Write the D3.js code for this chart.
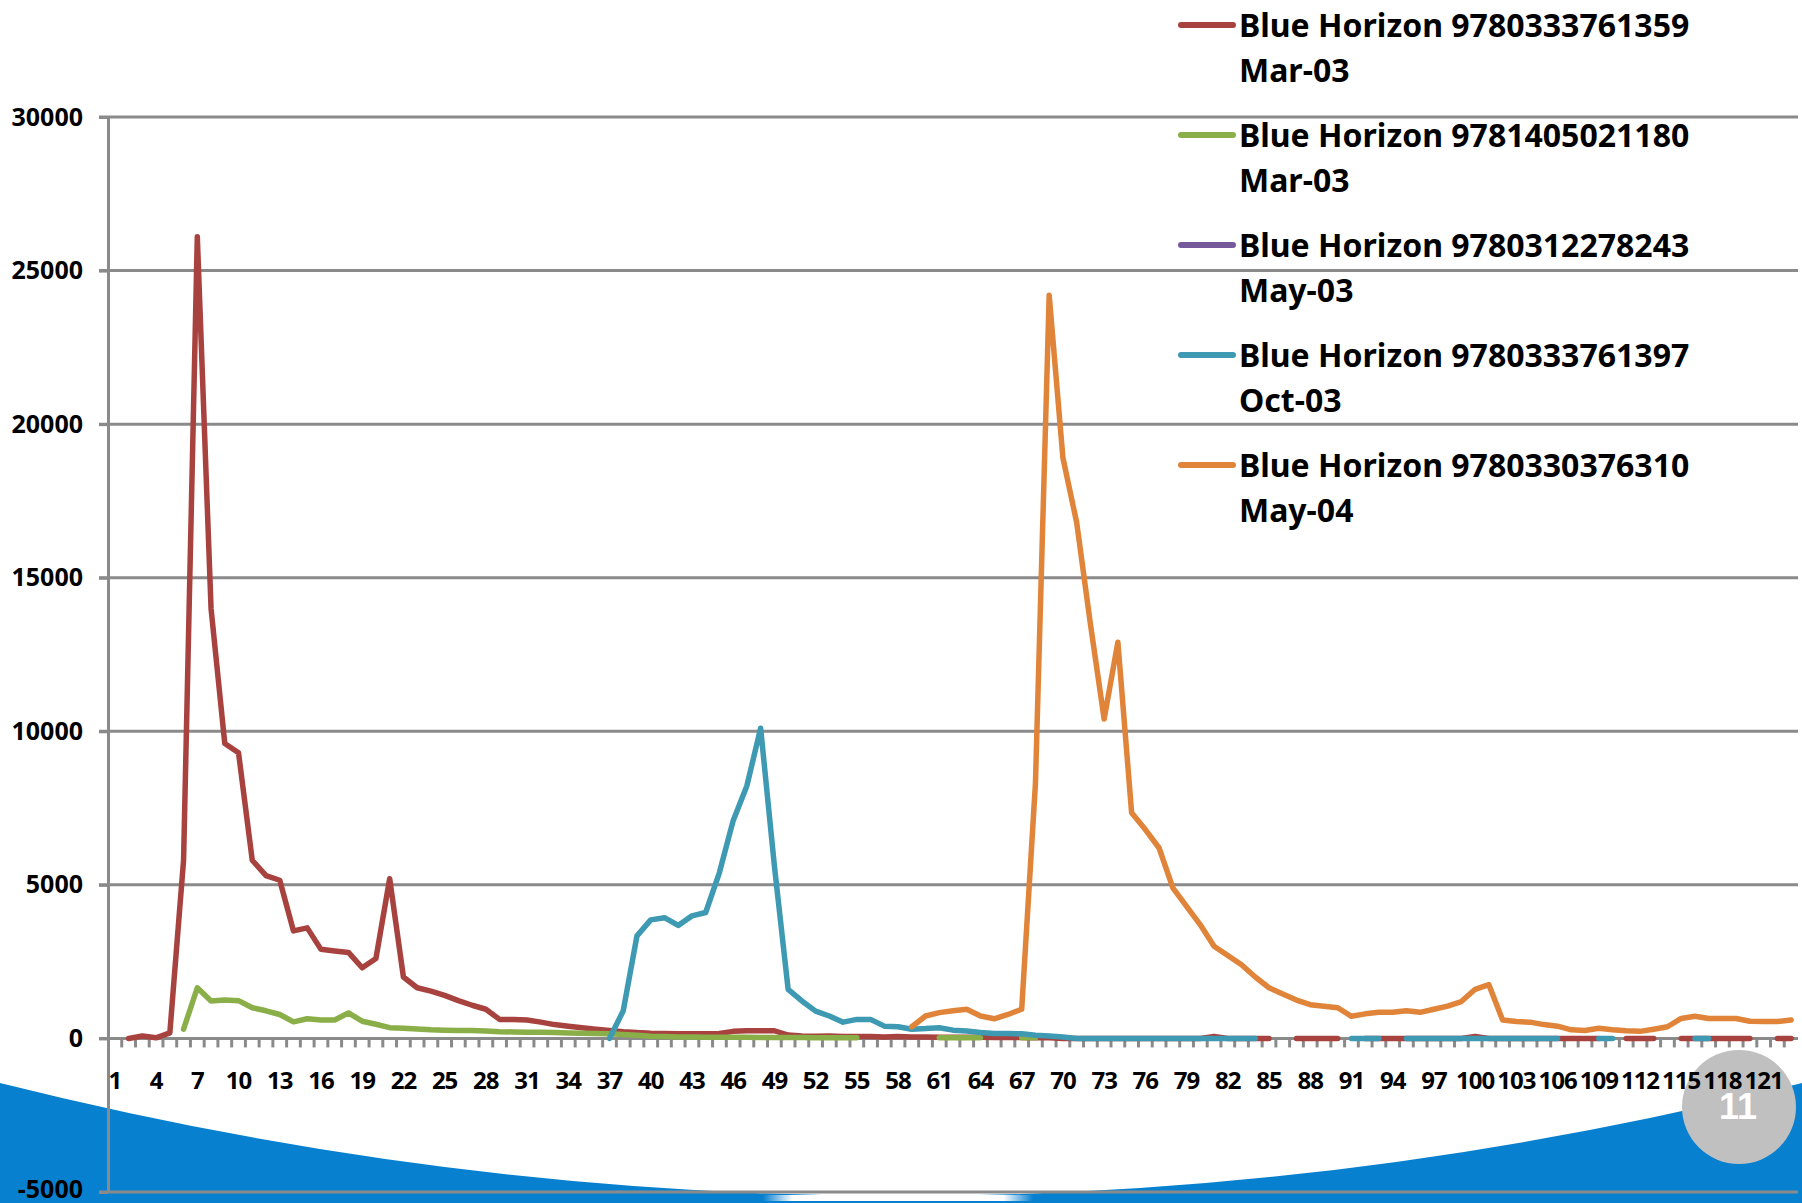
<!DOCTYPE html>
<html>
<head>
<meta charset="utf-8">
<script src="https://cdn.jsdelivr.net/npm/d3@7"></script>
<style>
  html, body { margin: 0; padding: 0; background: #ffffff; }
  svg { display: block; }
</style>
</head>
<body>
<svg id="chart" width="1802" height="1203"></svg>
<script>
// categories 1..123 (week numbers)
const categories = [
  1, 2, 3, 4, 5, 6, 7, 8, 9, 10, 11, 12, 13, 14, 15, 16, 17, 18, 19, 20,
  21, 22, 23, 24, 25, 26, 27, 28, 29, 30, 31, 32, 33, 34, 35, 36, 37, 38, 39, 40,
  41, 42, 43, 44, 45, 46, 47, 48, 49, 50, 51, 52, 53, 54, 55, 56, 57, 58, 59, 60,
  61, 62, 63, 64, 65, 66, 67, 68, 69, 70, 71, 72, 73, 74, 75, 76, 77, 78, 79, 80,
  81, 82, 83, 84, 85, 86, 87, 88, 89, 90, 91, 92, 93, 94, 95, 96, 97, 98, 99, 100,
  101, 102, 103, 104, 105, 106, 107, 108, 109, 110, 111, 112, 113, 114, 115, 116, 117, 118, 119, 120,
  121, 122, 123
];
const xLabels = [1, 4, 7, 10, 13, 16, 19, 22, 25, 28, 31, 34, 37, 40, 43, 46, 49, 52, 55, 58,
  61, 64, 67, 70, 73, 76, 79, 82, 85, 88, 91, 94, 97, 100, 103, 106, 109, 112, 115, 118, 121];
const yTicks = [-5000, 0, 5000, 10000, 15000, 20000, 25000, 30000];

const seriesNames = [
  "Blue Horizon 9780333761359",
  "Blue Horizon 9781405021180",
  "Blue Horizon 9780312278243",
  "Blue Horizon 9780333761397",
  "Blue Horizon 9780330376310"
];
const seriesDates = ["Mar-03", "Mar-03", "May-03", "Oct-03", "May-04"];
const seriesColors = ["#a8423f", "#8aae48", "#755a9b", "#3e99b3", "#e0843a"];

// each series starts at a given category; null = no value (gap)
const redStart = 2;
const redValues = [
  0, 80, 20, 180, 5800, 26100, 14000, 9600, 9300,
  5800, 5300, 5150, 3500, 3600, 2900, 2850, 2800, 2300, 2600,
  5200, 2000, 1650, 1540, 1400, 1230, 1080, 950, 620, 620,
  600, 530, 450, 400, 350, 300, 260, 220, 190, 170,
  160, 150, 150, 150, 160, 230, 250, 250, 250, 110,
  80, 70, 80, 60, 60, 60, 50, 60, 50, 50,
  40, 40, 40, 40, 30, 30, 30, 20, 20, 0,
  0, 0, 0, 0, 0, 0, 0, 0, 0, 0,
  60, 0, 0, 0, 0, null, 0, 0, 0, 0,
  null, 0, 0, 0, 0, 0, 0, 0, 0, 60,
  0, 0, 0, 0, 0, 0, 0, 0, 0, null,
  0, 0, 0, null, 0, 0, 0, 0, 0, 0,
  null, 0, 0
];

const greenStart = 6;
const greenValues = [
  300, 1650, 1220, 1250, 1230,
  1000, 900, 780, 540, 640, 600, 600, 830, 560, 460,
  350, 330, 310, 280, 270, 260, 260, 240, 220, 210,
  200, 200, 190, 180, 170, 160, 150, 130, 100, 70,
  60, 50, 50, 40, 40, 40, 40, 30, 30, 30,
  30, 20, 20, 20, 20, null, null, null, null, null,
  20, 20, 20, 20, null, null, 20, 20
];

const purpleStart = 1;
const purpleValues = [];

const tealStart = 37;
const tealValues = [
  0, 900, 3340, 3860,
  3930, 3680, 3990, 4100, 5400, 7090, 8230, 10100, 5620, 1600,
  1220, 890, 730, 530, 620, 620, 400, 380, 300, 320,
  350, 270, 240, 190, 160, 160, 150, 100, 80, 50,
  0, 0, 0, 0, 0, 0, 0, 0, 0, 0,
  0, 0, 0, 0, null, null, null, null, null, null,
  0, 0, 0, null, 0, 0, 0, 0, 0, 0,
  0, 0, 0, 0, 0, 0, null, null, 0, 0,
  null, null, null, null, null, 0, 0
];

const orangeStart = 59;
const orangeValues = [
  380, 730,
  840, 900, 950, 730, 640, 780, 950, 8300, 24200, 18900,
  16800, 13500, 10400, 12900, 7350, 6800, 6200, 4900, 4300, 3700,
  3000, 2700, 2400, 2000, 1650, 1450, 1250, 1100, 1050, 1000,
  720, 800, 850, 850, 900, 850, 950, 1050, 1200, 1600,
  1750, 600, 550, 530, 450, 400, 280, 260, 330, 280,
  250, 230, 300, 380, 650, 720, 650, 650, 650, 560,
  550, 550, 600
];

const seriesStarts = [redStart, greenStart, purpleStart, tealStart, orangeStart];
const seriesValues = [redValues, greenValues, purpleValues, tealValues, orangeValues];

const W = 1802, H = 1203;
const plot = { left: 108, right: 1798, top: 117, bottom: 1192 };
const gridColor = "#8a8a8a";
const font = "'Noto Sans', 'Open Sans', sans-serif";

const svg = d3.select("#chart");

// ---- slide decoration behind the chart ----
const defs = svg.append("defs");
const grad = defs.append("linearGradient").attr("id", "shine");
grad.append("stop").attr("offset", "0%").attr("stop-color", "#ffffff").attr("stop-opacity", 0);
grad.append("stop").attr("offset", "11%").attr("stop-color", "#ffffff").attr("stop-opacity", 1);
grad.append("stop").attr("offset", "89%").attr("stop-color", "#ffffff").attr("stop-opacity", 1);
grad.append("stop").attr("offset", "100%").attr("stop-color", "#ffffff").attr("stop-opacity", 0);

svg.append("path")
  .attr("d", `M0,1083 Q901,1309 ${W},1083 L${W},${H} L0,${H} Z`)
  .attr("fill", "#0880d0");

svg.append("rect")
  .attr("x", 763).attr("y", 1195)
  .attr("width", 270).attr("height", 6)
  .attr("fill", "url(#shine)");

svg.append("circle")
  .attr("cx", 1739).attr("cy", 1107).attr("r", 57)
  .attr("fill", "#c0c0c0");

svg.append("text")
  .attr("x", 1738).attr("y", 1119)
  .attr("text-anchor", "middle")
  .attr("font-family", "'Liberation Sans', Arial, sans-serif")
  .attr("font-weight", "bold")
  .attr("font-size", "36px")
  .attr("fill", "#ffffff")
  .text("11");

// ---- scales ----
const x = d3.scaleBand()
  .domain(categories)
  .range([plot.left, plot.right])
  .padding(0);
const xc = d => x(d) + x.bandwidth() / 2;

const y = d3.scaleLinear()
  .domain([-5000, 30000])
  .range([plot.bottom, plot.top]);

// horizontal gridlines (extend left as the tick marks)
svg.append("g").selectAll("line")
  .data(yTicks)
  .enter().append("line")
  .attr("x1", plot.left - 9)
  .attr("x2", plot.right)
  .attr("y1", d => y(d))
  .attr("y2", d => y(d))
  .attr("stroke", gridColor)
  .attr("stroke-width", 3);

// y axis
const yAxis = svg.append("g")
  .attr("transform", `translate(${plot.left},0)`)
  .call(d3.axisLeft(y).tickValues(yTicks).tickFormat(d => String(d))
    .tickSizeInner(9).tickSizeOuter(0).tickPadding(16));
yAxis.select(".domain").attr("stroke", gridColor).attr("stroke-width", 3);
yAxis.selectAll(".tick line").attr("stroke", gridColor).attr("stroke-width", 3);
yAxis.selectAll("text")
  .attr("font-family", font)
  .attr("font-weight", "bold")
  .attr("font-size", "25px")
  .attr("fill", "#000000");
// lowest label sits at the bottom edge; nudge it up a little
yAxis.selectAll("text").filter(d => d === -5000).attr("dy", "0.2em");

// x axis at value 0: line, tick marks between categories, labels every third
const y0 = y(0);
svg.append("line")
  .attr("x1", plot.left).attr("x2", plot.right)
  .attr("y1", y0).attr("y2", y0)
  .attr("stroke", gridColor).attr("stroke-width", 3);

svg.append("g").selectAll("line")
  .data(categories.slice(1))
  .enter().append("line")
  .attr("x1", d => x(d)).attr("x2", d => x(d))
  .attr("y1", y0).attr("y2", y0 + 9)
  .attr("stroke", gridColor)
  .attr("stroke-width", 3);

const xAxis = svg.append("g")
  .attr("transform", `translate(0,${y0})`)
  .call(d3.axisBottom(x).tickValues(xLabels).tickSize(0).tickPadding(34));
xAxis.select(".domain").remove();
xAxis.selectAll("text")
  .attr("font-family", font)
  .attr("font-weight", "bold")
  .attr("font-size", "24px")
  .attr("letter-spacing", "-1px")
  .attr("fill", "#000000");

// ---- series lines ----
const line = d3.line()
  .defined(d => d.v !== null)
  .x(d => xc(d.c))
  .y(d => y(d.v));

seriesValues.forEach((vals, i) => {
  const pts = vals.map((v, k) => ({ c: categories[seriesStarts[i] - 1 + k], v: v }));
  svg.append("path")
    .datum(pts)
    .attr("fill", "none")
    .attr("stroke", seriesColors[i])
    .attr("stroke-width", 5.5)
    .attr("stroke-linejoin", "round")
    .attr("stroke-linecap", "round")
    .attr("d", line);
});

// ---- legend ----
const legend = svg.append("g").attr("transform", "translate(1179,25)");
const entry = legend.selectAll(".legend")
  .data(seriesNames)
  .enter().append("g")
  .attr("class", "legend")
  .attr("transform", (d, i) => `translate(0,${i * 110})`);

entry.append("line")
  .attr("x1", 2).attr("x2", 54)
  .attr("y1", 0).attr("y2", 0)
  .attr("stroke", (d, i) => seriesColors[i])
  .attr("stroke-width", 6)
  .attr("stroke-linecap", "round");

entry.append("text")
  .attr("x", 60).attr("y", 12)
  .attr("font-family", font)
  .attr("font-weight", "bold")
  .attr("font-size", "32px")
  .attr("fill", "#000000")
  .text(d => d);

entry.append("text")
  .attr("x", 60).attr("y", 57)
  .attr("font-family", font)
  .attr("font-weight", "bold")
  .attr("font-size", "32px")
  .attr("fill", "#000000")
  .text((d, i) => seriesDates[i]);
</script>
</body>
</html>
